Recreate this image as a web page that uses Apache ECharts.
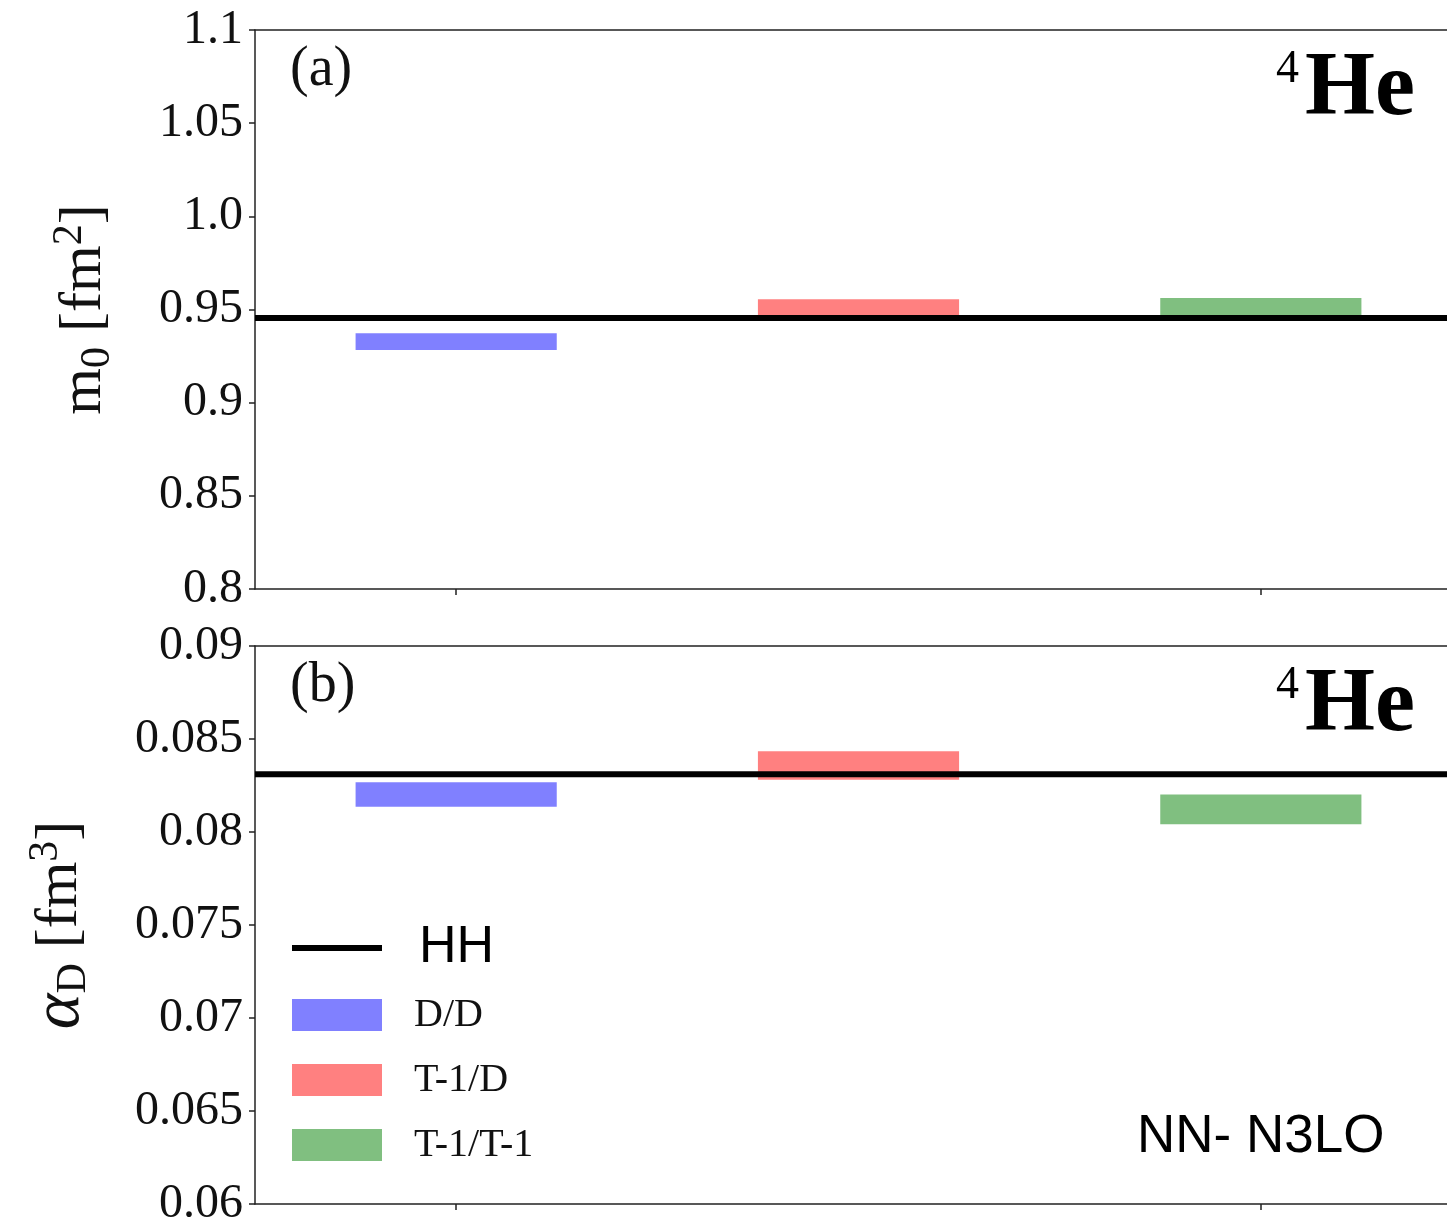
<!DOCTYPE html>
<html>
<head>
<meta charset="utf-8">
<script src="https://cdn.jsdelivr.net/npm/echarts@6/dist/echarts.min.js"></script>
<style>
html,body{margin:0;padding:0;background:#fff;overflow:hidden;width:1447px;height:1229px;}
#chart{width:1490px;height:1229px;}
</style>
</head>
<body>
<div id="chart"></div>
<script>
// ---- data ----
const methods = ['D/D', 'T-1/D', 'T-1/T-1'];
const methodX = [1, 2, 3];
const methodColors = ['#8080ff', '#ff8080', '#80bf80'];

const hhM0 = 0.9455;
const m0Low  = [0.9282, 0.9455, 0.9455];
const m0High = [0.9372, 0.9555, 0.9562];

const hhAlpha = 0.0831;
const alphaLow  = [0.08136, 0.08281, 0.08041];
const alphaHigh = [0.08267, 0.08434, 0.08201];

const m0TickValues = [0.8, 0.85, 0.9, 0.95, 1.0, 1.05, 1.1];
const m0TickLabels = ['0.8', '0.85', '0.9', '0.95', '1.0', '1.05', '1.1'];
const alphaTickValues = [0.06, 0.065, 0.07, 0.075, 0.08, 0.085, 0.09];
const alphaTickLabels = ['0.06', '0.065', '0.07', '0.075', '0.08', '0.085', '0.09'];

const xTickValues = [1, 3];
const xMin = 0.5, xMax = 3.5;

// ---- helpers ----
const HALF = 0.25;
const AX = '#222';
const SERIF = '"Liberation Serif", "DejaVu Serif", serif';
const SANS = '"Liberation Sans", Arial, sans-serif';

function fmt(values, labels) {
  return function (v) {
    for (let i = 0; i < values.length; i++) {
      if (Math.abs(values[i] - v) < 1e-9) return labels[i];
    }
    return '';
  };
}

function renderBar(params, api) {
  const x = api.value(0), lo = api.value(1), hi = api.value(2);
  const p1 = api.coord([x - HALF, hi]);
  const p2 = api.coord([x + HALF, lo]);
  return {
    type: 'rect',
    shape: { x: p1[0], y: p1[1], width: p2[0] - p1[0], height: p2[1] - p1[1] },
    style: { fill: api.visual('color') }
  };
}

function xAxisCfg(gridIndex) {
  return {
    type: 'value', gridIndex: gridIndex, min: xMin, max: xMax, position: 'bottom',
    axisLine: { show: true, onZero: false, lineStyle: { color: AX, width: 1.5 } },
    axisTick: { show: true, customValues: xTickValues, length: 6, inside: false, lineStyle: { color: AX, width: 1.5 } },
    axisLabel: { show: false },
    splitLine: { show: false }
  };
}

function xTopCfg(gridIndex) {
  return {
    type: 'value', gridIndex: gridIndex, min: xMin, max: xMax, position: 'top',
    axisLine: { show: true, onZero: false, lineStyle: { color: AX, width: 1.5 } },
    axisTick: { show: false },
    axisLabel: { show: false },
    splitLine: { show: false }
  };
}

function yAxisCfg(gridIndex, min, max, interval, values, labels, nameRich, nameGap) {
  return {
    type: 'value', gridIndex: gridIndex, min: min, max: max, interval: interval, position: 'left',
    axisLine: { show: true, onZero: false, lineStyle: { color: AX, width: 1.5 } },
    axisTick: { show: true, length: 6, inside: false, lineStyle: { color: AX, width: 1.5 } },
    axisLabel: { formatter: fmt(values, labels), fontFamily: SERIF, fontSize: 48, color: '#111', margin: 12 },
    splitLine: { show: false },
    name: nameRich,
    nameLocation: 'middle',
    nameRotate: 90,
    nameGap: nameGap,
    nameTextStyle: {
      color: '#111',
      rich: {
        m: { fontFamily: SERIF, fontSize: 60, lineHeight: 70, color: '#111' },
        a: { fontFamily: SERIF, fontSize: 68, fontStyle: 'italic', lineHeight: 70, color: '#111' },
        sub: { fontFamily: SERIF, fontSize: 42, lineHeight: 40, verticalAlign: 'bottom', color: '#111' },
        sup: { fontFamily: SERIF, fontSize: 42, lineHeight: 40, verticalAlign: 'top', color: '#111' }
      }
    }
  };
}

const series = [];
[0, 1].forEach(function (g) {
  const lows = g === 0 ? m0Low : alphaLow;
  const highs = g === 0 ? m0High : alphaHigh;
  methods.forEach(function (name, i) {
    series.push({
      type: 'custom', name: name, xAxisIndex: g, yAxisIndex: g,
      color: methodColors[i],
      itemStyle: { color: methodColors[i] },
      renderItem: renderBar,
      encode: { x: 0, y: [1, 2] },
      data: [[methodX[i], lows[i], highs[i]]],
      z: 2
    });
  });
  const hh = g === 0 ? hhM0 : hhAlpha;
  series.push({
    type: 'line', name: 'HH', xAxisIndex: g, yAxisIndex: g,
    color: '#000',
    symbol: 'none',
    lineStyle: { color: '#000', width: 6 },
    data: [[xMin, hh], [xMax, hh]],
    z: 5
  });
});

function heText(y) {
  return {
    type: 'text', z: 100,
    style: {
      text: '{sup|4}{b|He}', x: 1415, y: y, align: 'right', verticalAlign: 'top',
      rich: {
        sup: { fontFamily: SERIF, fontSize: 46, lineHeight: 64, verticalAlign: 'top', fill: '#000', padding: [0, 6, 0, 0] },
        b: { fontFamily: SERIF, fontSize: 90, fontWeight: 'bold', lineHeight: 88, fill: '#000' }
      }
    }
  };
}

// legend icon for HH: a thick horizontal bar inside a 90x32 box
const HH_ICON = 'path://M0,0L0,0M0,13L90,13L90,19L0,19ZM90,32L90,32';

const option = {
  animation: false,
  backgroundColor: '#fff',
  grid: [
    { left: 255, top: 30, width: 1207, height: 559, outerBoundsMode: 'none', containLabel: false, show: false },
    { left: 255, top: 646, width: 1207, height: 558, outerBoundsMode: 'none', containLabel: false, show: false }
  ],
  xAxis: [xAxisCfg(0), xAxisCfg(1), xTopCfg(0), xTopCfg(1)],
  yAxis: [
    yAxisCfg(0, 0.8, 1.1, 0.05, m0TickValues, m0TickLabels, '{m|m}{sub|0}{m| [fm}{sup|2}{m|]}', 136),
    yAxisCfg(1, 0.06, 0.09, 0.005, alphaTickValues, alphaTickLabels, '{a|α}{sub|D}{m| [fm}{sup|3}{m|]}', 160)
  ],
  legend: {
    orient: 'vertical', left: 292, top: 922, padding: 0,
    itemWidth: 90, itemHeight: 32, itemGap: 17,
    selectedMode: false,
    symbolKeepAspect: true,
    textStyle: { fontFamily: SERIF, fontSize: 40, lineHeight: 48, color: '#111', padding: [0, 0, 0, 27] },
    data: [
      { name: 'HH', icon: HH_ICON, textStyle: { fontFamily: SANS, fontSize: 52, lineHeight: 48, color: '#000', padding: [0, 0, 0, 32] } },
      { name: 'D/D', icon: 'rect' },
      { name: 'T-1/D', icon: 'rect' },
      { name: 'T-1/T-1', icon: 'rect' }
    ]
  },
  graphic: [
    { type: 'text', z: 100, style: { text: '(a)', x: 290, y: 70, verticalAlign: 'middle', fontFamily: SERIF, fontSize: 56, fill: '#111' } },
    { type: 'text', z: 100, style: { text: '(b)', x: 290, y: 686, verticalAlign: 'middle', fontFamily: SERIF, fontSize: 56, fill: '#111' } },
    heText(47),
    heText(663),
    { type: 'text', z: 100, style: { text: 'NN- N3LO', x: 1137, y: 1137, verticalAlign: 'middle', fontFamily: SANS, fontSize: 53, fill: '#000' } }
  ],
  series: series
};

const chart = echarts.init(document.getElementById('chart'), null, { renderer: 'canvas' });
chart.setOption(option);
</script>
</body>
</html>
